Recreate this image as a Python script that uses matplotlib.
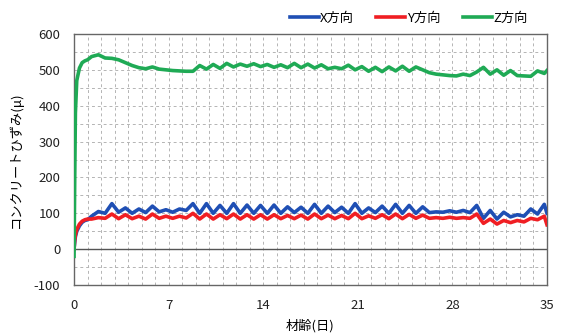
import numpy as np
import matplotlib
matplotlib.use('Agg')
from matplotlib import pyplot as plt
from matplotlib.ticker import MultipleLocator

# 日本語表示
plt.rcParams['font.family'] = ['Noto Sans CJK JP', 'DejaVu Sans']
plt.rcParams['axes.unicode_minus'] = False

"""================ データ ================"""
# 材齢(日)
t_early = [0, 0.05, 0.1, 0.2, 0.4, 0.6, 0.8, 1.0]
t_daily = [1.3, 1.8, 2.3, 2.8, 3.3, 3.8, 4.3, 4.8, 5.3, 5.8, 6.3, 6.8, 7.3, 7.8,
           8.3, 8.8, 9.3, 9.8, 10.3, 10.8, 11.3, 11.8, 12.3, 12.8, 13.3, 13.8,
           14.3, 14.8, 15.3, 15.8, 16.3, 16.8, 17.3, 17.8, 18.3, 18.8, 19.3, 19.8,
           20.3, 20.8, 21.3, 21.8, 22.3, 22.8, 23.3, 23.8, 24.3, 24.8, 25.3, 25.8,
           26.3, 26.8, 27.3, 27.8, 28.3, 28.8, 29.3, 29.8, 30.3, 30.8, 31.3, 31.8,
           32.3, 32.8, 33.3, 33.8, 34.3, 34.8, 35.0]
days = t_early + t_daily

# X方向
x_dir = [0, 20, 35, 50, 65, 75, 80, 82,
         92, 105, 100, 127, 103, 115, 100, 112, 102, 120, 104, 110, 103, 112,
         108, 127, 100, 127, 100, 122, 100, 127, 100, 123, 100, 122, 100, 123,
         100, 118, 102, 117, 100, 125, 100, 120, 102, 117, 100, 127, 100, 115,
         102, 120, 100, 125, 100, 122, 100, 118, 102, 104, 103, 107, 103, 108,
         102, 122, 86, 108, 84, 103, 90, 96, 92, 112, 98, 125, 100]
# Y方向
y_dir = [0, 25, 40, 55, 70, 78, 82, 84,
         84, 88, 86, 98, 85, 96, 85, 92, 84, 98, 86, 92, 86, 92,
         87, 100, 84, 98, 84, 96, 85, 98, 84, 96, 84, 96, 84, 96,
         85, 94, 85, 95, 84, 98, 85, 95, 85, 94, 85, 100, 85, 93,
         86, 96, 85, 98, 85, 97, 86, 95, 86, 88, 86, 89, 86, 88,
         86, 98, 72, 84, 70, 80, 74, 80, 76, 86, 82, 92, 68]
# Z方向
z_dir = [-20, 200, 380, 470, 505, 520, 525, 528,
         537, 542, 533, 532, 528, 520, 512, 506, 503, 508, 502, 500, 498, 497,
         496, 496, 512, 502, 515, 504, 518, 508, 516, 510, 517, 509, 515, 507,
         514, 506, 518, 506, 516, 505, 514, 503, 507, 503, 513, 500, 509, 496,
         507, 495, 508, 497, 510, 496, 508, 500, 492, 488, 486, 484, 483, 488,
         484, 494, 507, 488, 500, 485, 498, 484, 483, 482, 497, 490, 498]

"""================ 描画 ================"""
fig = plt.figure(figsize=(5.61, 3.33), dpi=100)
ax = fig.add_axes([0.132, 0.144, 0.843, 0.754])

ax.plot(days, x_dir, color='#1f4fb4', lw=2.6, label='X方向', zorder=3)
ax.plot(days, y_dir, color='#f01e23', lw=2.6, label='Y方向', zorder=3)
ax.plot(days, z_dir, color='#1faa55', lw=2.6, label='Z方向', zorder=4)

ax.axhline(0, color='#555555', lw=1.0, zorder=2)

ax.set_xlim(0, 35)
ax.set_ylim(-100, 600)
ax.xaxis.set_major_locator(MultipleLocator(7))
ax.xaxis.set_minor_locator(MultipleLocator(1))
ax.yaxis.set_major_locator(MultipleLocator(100))
ax.yaxis.set_minor_locator(MultipleLocator(50))
ax.grid(which='both', color='#b4b4b4', ls=(0, (3, 3)), lw=0.7)
ax.tick_params(which='both', length=0, labelsize=9.5, colors='#222222')
ax.tick_params(axis='x', pad=10)
ax.tick_params(axis='y', pad=10)
for s in ax.spines.values():
    s.set_color('#666666')
    s.set_linewidth(1.0)

ax.set_ylabel('コンクリートひずみ(μ)', fontsize=9.5, labelpad=8)
ax.set_xlabel('材齢(日)', fontsize=9.5, labelpad=5)

fig.legend(loc='center', bbox_to_anchor=(0.728, 0.945), ncol=3, frameon=False,
           fontsize=9.5, handlelength=2.2, handletextpad=0.1, columnspacing=1.7)

fig.savefig('out.png', dpi=100)
